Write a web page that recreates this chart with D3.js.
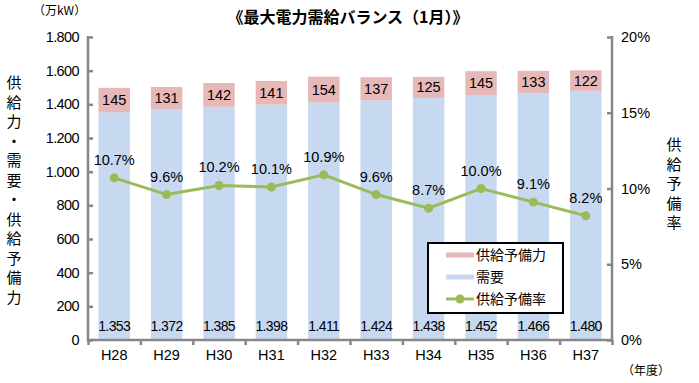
<!DOCTYPE html>
<html>
<head>
<meta charset="utf-8">
<title>最大電力需給バランス</title>
<script src="https://cdn.jsdelivr.net/npm/d3@7"></script>
<style>
  body { margin: 0; background: #fff; }
  text { font-family: "Liberation Sans", "Noto Sans CJK JP", sans-serif; fill: #000; }
  .jp { font-family: "Noto Sans CJK JP", sans-serif; }
</style>
</head>
<body>
<div id="chart"></div>
<script>
// data
var years   = ["H28","H29","H30","H31","H32","H33","H34","H35","H36","H37"];
var demand  = [1353, 1372, 1385, 1398, 1411, 1424, 1438, 1452, 1466, 1480];
var reserve = [145, 131, 142, 141, 154, 137, 125, 145, 133, 122];
var rate    = [10.7, 9.6, 10.2, 10.1, 10.9, 9.6, 8.7, 10.0, 9.1, 8.2];
var leftTicks  = [0, 200, 400, 600, 800, 1000, 1200, 1400, 1600, 1800];
var rightTicks = [0, 5, 10, 15, 20];

var width = 699, height = 383;
var pLeft = 88, pRight = 612, pTop = 37, pBottom = 340;

var svg = d3.select("#chart").append("svg")
    .attr("width", width).attr("height", height);

var x = d3.scaleBand().domain(years).range([pLeft, pRight]).paddingInner(0.4).paddingOuter(0.2);
var y = d3.scaleLinear().domain([0, 1800]).range([pBottom, pTop]);
var y2 = d3.scaleLinear().domain([0, 20]).range([pBottom, pTop]);

// "1.353" style numbers (period as separator)
var fmt = function(v) { return d3.format(",")(v).replace(/,/g, "."); };

// bars
var g = svg.append("g");
g.selectAll("rect.dem").data(years).enter().append("rect")
    .attr("x", function(d) { return x(d); })
    .attr("width", x.bandwidth())
    .attr("y", function(d, i) { return y(demand[i]); })
    .attr("height", function(d, i) { return pBottom - y(demand[i]); })
    .attr("fill", "#c6d9f1");
g.selectAll("rect.res").data(years).enter().append("rect")
    .attr("x", function(d) { return x(d); })
    .attr("width", x.bandwidth())
    .attr("y", function(d, i) { return y(demand[i] + reserve[i]); })
    .attr("height", function(d, i) { return y(demand[i]) - y(demand[i] + reserve[i]); })
    .attr("fill", "#e6b9b8");

// bar labels
g.selectAll("text.res").data(years).enter().append("text")
    .attr("x", function(d) { return x(d) + x.bandwidth() / 2; })
    .attr("y", function(d, i) { return (y(demand[i]) + y(demand[i] + reserve[i])) / 2 + 5; })
    .attr("text-anchor", "middle").attr("font-size", 14.5)
    .text(function(d, i) { return reserve[i]; });
g.selectAll("text.dem").data(years).enter().append("text")
    .attr("x", function(d) { return x(d) + x.bandwidth() / 2; })
    .attr("y", 331)
    .attr("text-anchor", "middle").attr("font-size", 14).attr("letter-spacing", -0.6)
    .text(function(d, i) { return fmt(demand[i]); });

// axes
var axisColor = "#878787";
var axL = svg.append("g").attr("transform", "translate(" + pLeft + ",0)")
    .call(d3.axisRight(y).tickValues(leftTicks).tickSize(5).tickFormat(""));
var axR = svg.append("g").attr("transform", "translate(" + pRight + ",0)")
    .call(d3.axisLeft(y2).tickValues(rightTicks).tickSize(5).tickFormat(""));
var xb = d3.scaleLinear().domain([0, years.length]).range([pLeft, pRight]);
var axB = svg.append("g").attr("transform", "translate(0," + pBottom + ")")
    .call(d3.axisBottom(xb).tickValues(d3.range(years.length + 1)).tickSize(5).tickFormat(""));
[axL, axR, axB].forEach(function(a) {
  a.selectAll("path.domain").attr("stroke", axisColor).attr("stroke-width", 2.5);
  a.selectAll(".tick line").attr("stroke", axisColor).attr("stroke-width", 2.5);
});
axL.select("path.domain").attr("d", "M0," + (pTop - 1) + "V" + (pBottom + 1));
axR.select("path.domain").attr("d", "M0," + (pTop - 1) + "V" + (pBottom + 1));
axB.select("path.domain").attr("d", "M" + (pLeft - 1) + ",0H" + (pRight + 1));

// tick labels
svg.selectAll("text.yl").data(leftTicks).enter().append("text")
    .attr("x", 79).attr("y", function(d) { return y(d) + 5; })
    .attr("text-anchor", "end").attr("font-size", 14.5).attr("letter-spacing", -0.6)
    .text(function(d) { return fmt(d); });
svg.selectAll("text.yr").data(rightTicks).enter().append("text")
    .attr("x", 621).attr("y", function(d) { return y2(d) + 5; })
    .attr("font-size", 14.5)
    .text(function(d) { return d + "%"; });
svg.selectAll("text.xl").data(years).enter().append("text")
    .attr("x", function(d) { return x(d) + x.bandwidth() / 2; })
    .attr("y", 360)
    .attr("text-anchor", "middle").attr("font-size", 14.5)
    .text(function(d) { return d; });

// rate line
var line = d3.line()
    .x(function(d, i) { return x(years[i]) + x.bandwidth() / 2; })
    .y(function(d) { return y2(d); });
svg.append("path").datum(rate)
    .attr("d", line).attr("fill", "none")
    .attr("stroke", "#9bbb59").attr("stroke-width", 3);
svg.selectAll("circle.pt").data(rate).enter().append("circle")
    .attr("cx", function(d, i) { return x(years[i]) + x.bandwidth() / 2; })
    .attr("cy", function(d) { return y2(d); })
    .attr("r", 4.5).attr("fill", "#9bbb59");
svg.selectAll("text.rt").data(rate).enter().append("text")
    .attr("x", function(d, i) { return x(years[i]) + x.bandwidth() / 2; })
    .attr("y", function(d) { return y2(d) - 13; })
    .attr("text-anchor", "middle").attr("font-size", 14.5)
    .text(function(d) { return d.toFixed(1) + "%"; });

// titles
svg.append("text").attr("class", "jp")
    .attr("x", 348).attr("y", 23).attr("text-anchor", "middle")
    .attr("font-size", 16).attr("font-weight", "bold")
    .text("《最大電力需給バランス（1月）》");
svg.append("text").attr("class", "jp")
    .attr("x", 33).attr("y", 15).attr("font-size", 12)
    .text("（万kW）");
svg.append("text").attr("class", "jp")
    .attr("x", 622).attr("y", 375).attr("font-size", 12)
    .text("（年度）");

function vertical(str, cx, y0, step) {
  svg.append("g").selectAll("text").data(str.split("")).enter().append("text")
      .attr("class", "jp")
      .attr("x", cx).attr("y", function(d, i) { return y0 + i * step; })
      .attr("text-anchor", "middle").attr("font-size", 15)
      .text(function(d) { return d; });
}
vertical("供給力・需要・供給予備力", 14, 88, 19.5);
vertical("供給予備率", 674, 150, 19.5);

// legend
var lg = svg.append("g").attr("transform", "translate(428,243)");
lg.append("rect").attr("width", 135).attr("height", 70)
    .attr("fill", "#fff").attr("stroke", "#000").attr("stroke-width", 2);
var items = [
  { name: "供給予備力", color: "#e6b9b8", marker: false },
  { name: "需要",       color: "#c6d9f1", marker: false },
  { name: "供給予備率", color: "#9bbb59", marker: true }
];
items.forEach(function(it, i) {
  var yy = 12 + i * 22;
  lg.append("line").attr("x1", 18).attr("x2", 46).attr("y1", yy).attr("y2", yy)
      .attr("stroke", it.color).attr("stroke-width", it.marker ? 3 : 5);
  if (it.marker) lg.append("circle").attr("cx", 32).attr("cy", yy).attr("r", 4.5).attr("fill", it.color);
  lg.append("text").attr("class", "jp").attr("x", 48).attr("y", yy + 5)
      .attr("font-size", 14).text(it.name);
});
</script>
</body>
</html>
